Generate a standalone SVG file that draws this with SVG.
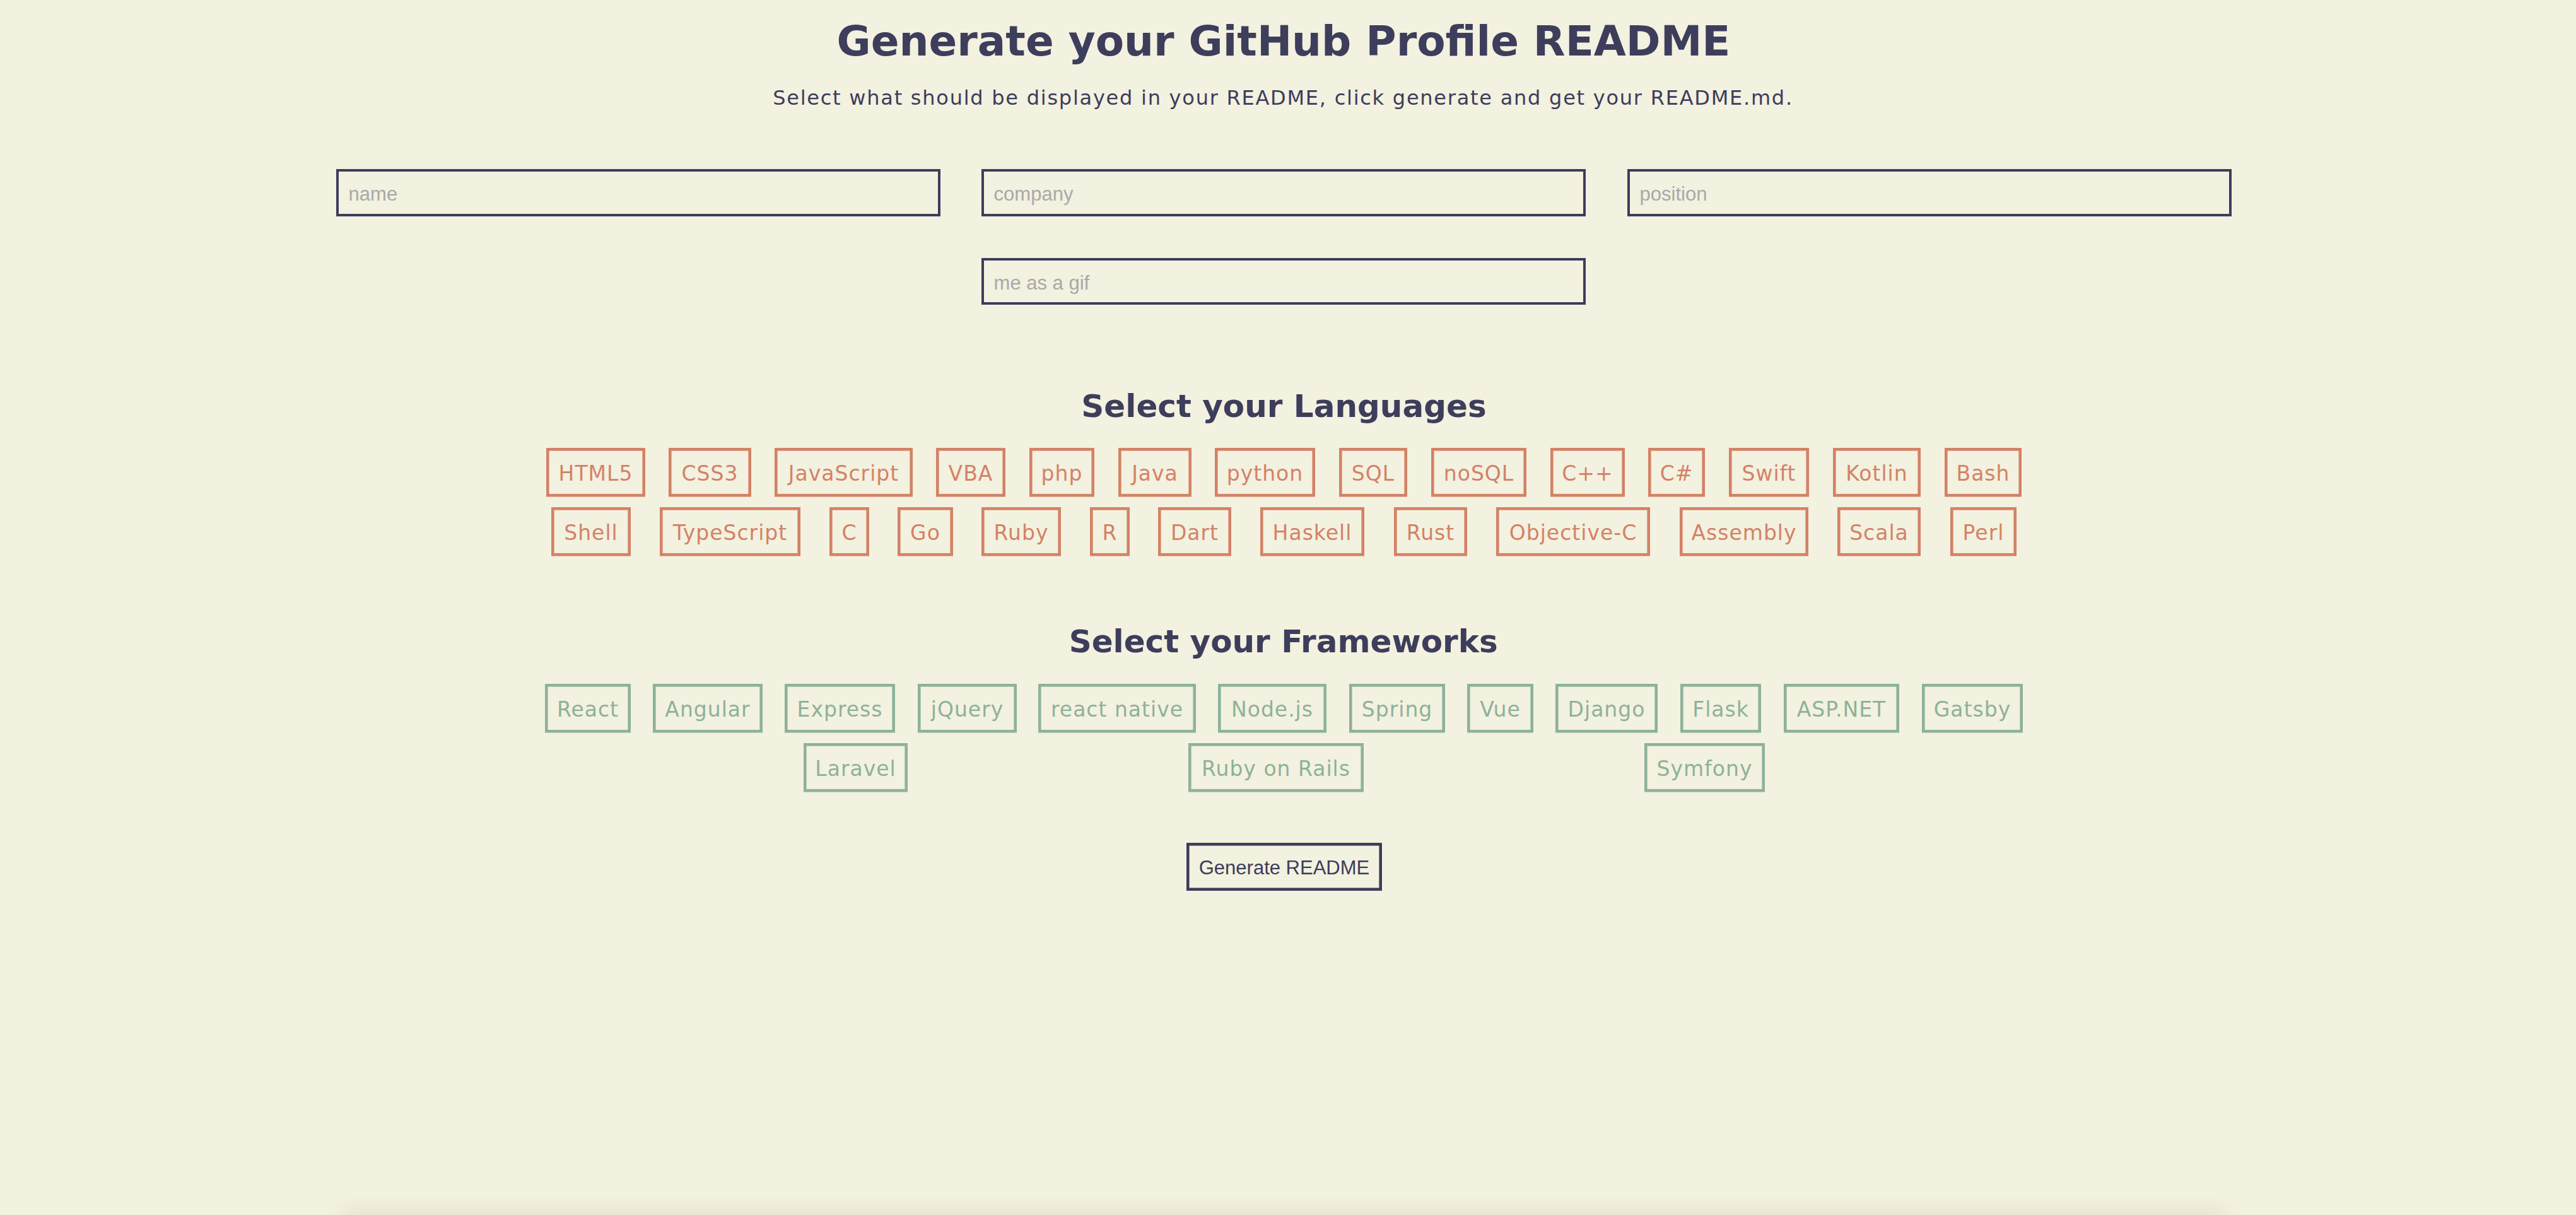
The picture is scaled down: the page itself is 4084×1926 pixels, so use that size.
<svg xmlns="http://www.w3.org/2000/svg" width="4084" height="1926" viewBox="0 0 4084 1926">
<style>
.bg{fill:#f3f1df}
.title{font-family:"DejaVu Sans",Verdana,sans-serif;font-weight:bold;fill:#3d3d5c;text-anchor:middle}
.sub{font-family:"DejaVu Sans",Verdana,sans-serif;fill:#3d3d5c;text-anchor:middle;font-size:32px;letter-spacing:1.75px}
.inp{fill:none;stroke:#3d3d5c;stroke-width:4}
.ph{font-family:"Liberation Sans",Arial,sans-serif;font-size:31px;fill:#a9a9a9}
.lang rect{fill:none;stroke:#d38267;stroke-width:4.6}
.lang text{font-family:"DejaVu Sans",Verdana,sans-serif;font-size:33px;letter-spacing:1px;fill:#d38267;text-anchor:middle}
.fw rect{fill:none;stroke:#8db29a;stroke-width:4.6}
.fw text{font-family:"DejaVu Sans",Verdana,sans-serif;font-size:33px;letter-spacing:1px;fill:#8db29a;text-anchor:middle}
.btn rect{fill:none;stroke:#3d3d5c;stroke-width:4.6}
.btn text{font-family:"Liberation Sans",Arial,sans-serif;font-size:31px;fill:#3d3d5c;text-anchor:middle}
</style>
<defs>
<filter id="sh" x="-10%" y="-100%" width="120%" height="300%"><feGaussianBlur stdDeviation="20"/></filter>
</defs>
<rect class="bg" x="0" y="0" width="4084" height="1926"/>
<rect x="548" y="1928" width="2975" height="200" fill="#3a3000" opacity="0.13" filter="url(#sh)"/>

<g id="header">
<text class="title" x="2035" y="88" font-size="66">Generate your GitHub Profile README</text>
<text class="sub" x="2034" y="166">Select what should be displayed in your README, click generate and get your README.md.</text>
</g>

<g id="input-name"><rect class="inp" x="535" y="270" width="954" height="71"/><text class="ph" x="552.6" y="318">name</text></g>
<g id="input-company"><rect class="inp" x="1558" y="270" width="954" height="71"/><text class="ph" x="1575.6" y="318">company</text></g>
<g id="input-position"><rect class="inp" x="2582" y="270" width="954" height="71"/><text class="ph" x="2599.6" y="318">position</text></g>
<g id="input-gif"><rect class="inp" x="1558" y="411" width="954" height="70"/><text class="ph" x="1575.6" y="459">me as a gif</text></g>

<g id="languages-heading"><text class="title" x="2035.5" y="661" font-size="50">Select your Languages</text></g>

<g id="lang-html5" class="lang"><rect x="868.3" y="712.3" width="152.4" height="72.9"/><text x="944.5" y="762.3">HTML5</text></g>
<g id="lang-css3" class="lang"><rect x="1062.3" y="712.3" width="126.4" height="72.9"/><text x="1125.5" y="762.3">CSS3</text></g>
<g id="lang-javascript" class="lang"><rect x="1230.3" y="712.3" width="214.4" height="72.9"/><text x="1337.5" y="762.3">JavaScript</text></g>
<g id="lang-vba" class="lang"><rect x="1486.3" y="712.3" width="105.4" height="72.9"/><text x="1539" y="762.3">VBA</text></g>
<g id="lang-php" class="lang"><rect x="1634.3" y="712.3" width="98.4" height="72.9"/><text x="1683.5" y="762.3">php</text></g>
<g id="lang-java" class="lang"><rect x="1775.3" y="712.3" width="111.4" height="72.9"/><text x="1831" y="762.3">Java</text></g>
<g id="lang-python" class="lang"><rect x="1928.3" y="712.3" width="154.4" height="72.9"/><text x="2005.5" y="762.3">python</text></g>
<g id="lang-sql" class="lang"><rect x="2125.3" y="712.3" width="103.4" height="72.9"/><text x="2177" y="762.3">SQL</text></g>
<g id="lang-nosql" class="lang"><rect x="2271.3" y="712.3" width="146.4" height="72.9"/><text x="2344.5" y="762.3">noSQL</text></g>
<g id="lang-cpp" class="lang"><rect x="2460.3" y="712.3" width="113.4" height="72.9"/><text x="2517" y="762.3">C++</text></g>
<g id="lang-csharp" class="lang"><rect x="2615.3" y="712.3" width="85.4" height="72.9"/><text x="2658" y="762.3">C#</text></g>
<g id="lang-swift" class="lang"><rect x="2743.3" y="712.3" width="122.4" height="72.9"/><text x="2804.5" y="762.3">Swift</text></g>
<g id="lang-kotlin" class="lang"><rect x="2908.3" y="712.3" width="134.4" height="72.9"/><text x="2975.5" y="762.3">Kotlin</text></g>
<g id="lang-bash" class="lang"><rect x="3085.3" y="712.3" width="117.4" height="72.9"/><text x="3144" y="762.3">Bash</text></g>

<g id="lang-shell" class="lang"><rect x="876.3" y="806.3" width="121.4" height="72.9"/><text x="937" y="856.3">Shell</text></g>
<g id="lang-typescript" class="lang"><rect x="1048.3" y="806.3" width="218.4" height="72.9"/><text x="1157.5" y="856.3">TypeScript</text></g>
<g id="lang-c" class="lang"><rect x="1317.3" y="806.3" width="58.4" height="72.9"/><text x="1346.5" y="856.3">C</text></g>
<g id="lang-go" class="lang"><rect x="1425.3" y="806.3" width="83.4" height="72.9"/><text x="1467" y="856.3">Go</text></g>
<g id="lang-ruby" class="lang"><rect x="1558.3" y="806.3" width="121.4" height="72.9"/><text x="1619" y="856.3">Ruby</text></g>
<g id="lang-r" class="lang"><rect x="1730.3" y="806.3" width="58.4" height="72.9"/><text x="1759.5" y="856.3">R</text></g>
<g id="lang-dart" class="lang"><rect x="1838.3" y="806.3" width="111.4" height="72.9"/><text x="1894" y="856.3">Dart</text></g>
<g id="lang-haskell" class="lang"><rect x="2000.3" y="806.3" width="160.4" height="72.9"/><text x="2080.5" y="856.3">Haskell</text></g>
<g id="lang-rust" class="lang"><rect x="2212.3" y="806.3" width="111.4" height="72.9"/><text x="2268" y="856.3">Rust</text></g>
<g id="lang-objective-c" class="lang"><rect x="2374.3" y="806.3" width="239.4" height="72.9"/><text x="2494" y="856.3">Objective-C</text></g>
<g id="lang-assembly" class="lang"><rect x="2665.3" y="806.3" width="199.4" height="72.9"/><text x="2765" y="856.3">Assembly</text></g>
<g id="lang-scala" class="lang"><rect x="2915.3" y="806.3" width="127.4" height="72.9"/><text x="2979" y="856.3">Scala</text></g>
<g id="lang-perl" class="lang"><rect x="3094.3" y="806.3" width="100.4" height="72.9"/><text x="3144.5" y="856.3">Perl</text></g>

<g id="frameworks-heading"><text class="title" x="2034.7" y="1034" font-size="50">Select your Frameworks</text></g>

<g id="fw-react" class="fw"><rect x="866.3" y="1086.3" width="131.4" height="72.9"/><text x="932" y="1136.3">React</text></g>
<g id="fw-angular" class="fw"><rect x="1037.3" y="1086.3" width="169.4" height="72.9"/><text x="1122" y="1136.3">Angular</text></g>
<g id="fw-express" class="fw"><rect x="1246.3" y="1086.3" width="170.4" height="72.9"/><text x="1331.5" y="1136.3">Express</text></g>
<g id="fw-jquery" class="fw"><rect x="1457.3" y="1086.3" width="152.4" height="72.9"/><text x="1533.5" y="1136.3">jQuery</text></g>
<g id="fw-react-native" class="fw"><rect x="1648.3" y="1086.3" width="245.4" height="72.9"/><text x="1771" y="1136.3">react native</text></g>
<g id="fw-nodejs" class="fw"><rect x="1933.3" y="1086.3" width="167.4" height="72.9"/><text x="2017" y="1136.3">Node.js</text></g>
<g id="fw-spring" class="fw"><rect x="2141.3" y="1086.3" width="147.4" height="72.9"/><text x="2215" y="1136.3">Spring</text></g>
<g id="fw-vue" class="fw"><rect x="2328.3" y="1086.3" width="100.4" height="72.9"/><text x="2378.5" y="1136.3">Vue</text></g>
<g id="fw-django" class="fw"><rect x="2468.3" y="1086.3" width="157.4" height="72.9"/><text x="2547" y="1136.3">Django</text></g>
<g id="fw-flask" class="fw"><rect x="2666.3" y="1086.3" width="123.4" height="72.9"/><text x="2728" y="1136.3">Flask</text></g>
<g id="fw-aspnet" class="fw"><rect x="2830.3" y="1086.3" width="178.4" height="72.9"/><text x="2919.5" y="1136.3">ASP.NET</text></g>
<g id="fw-gatsby" class="fw"><rect x="3049.3" y="1086.3" width="155.4" height="72.9"/><text x="3127" y="1136.3">Gatsby</text></g>

<g id="fw-laravel" class="fw"><rect x="1276.3" y="1180.3" width="160.4" height="72.9"/><text x="1356.5" y="1230.3">Laravel</text></g>
<g id="fw-ruby-on-rails" class="fw"><rect x="1886.3" y="1180.3" width="273.4" height="72.9"/><text x="2023" y="1230.3">Ruby on Rails</text></g>
<g id="fw-symfony" class="fw"><rect x="2609.3" y="1180.3" width="186.4" height="72.9"/><text x="2702.5" y="1230.3">Symfony</text></g>

<g id="btn-generate" class="btn"><rect x="1883.3" y="1338.3" width="305.4" height="71.4"/><text x="2036" y="1386">Generate README</text></g>

<g id="connectors"></g>
</svg>
